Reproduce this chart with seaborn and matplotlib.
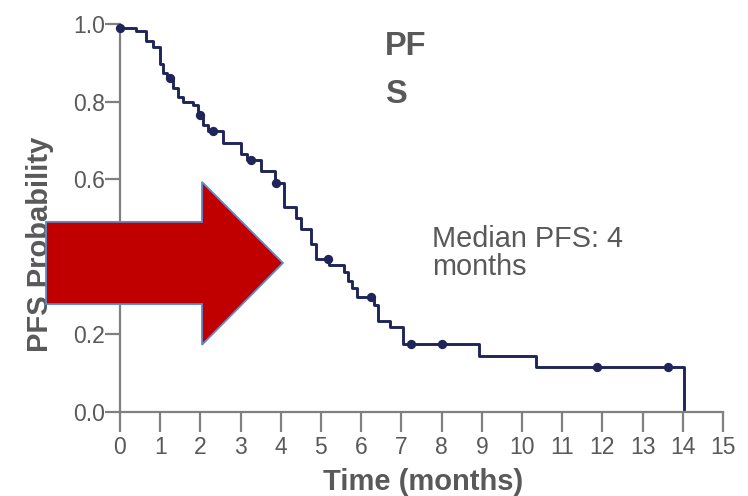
import numpy as np
import matplotlib
matplotlib.use("Agg")
import matplotlib.pyplot as plt
from matplotlib.patches import Polygon
import seaborn as sns

# Kaplan-Meier steps (time in months, survival after the event)
times = [0, 0.41, 0.645, 0.83, 0.99, 1.07, 1.16, 1.32, 1.45, 1.57, 1.82, 1.95,
         2.07, 2.18, 2.56, 3.0, 3.15, 3.52, 3.85, 4.09, 4.37, 4.51, 4.76, 4.88,
         5.21, 5.58, 5.67, 5.77, 5.89, 6.33, 6.43, 6.72, 7.05, 8.93, 10.36, 14.02]
surv = [0.99, 0.982, 0.956, 0.941, 0.896, 0.873, 0.86, 0.834, 0.813, 0.80, 0.79, 0.765,
        0.740, 0.725, 0.693, 0.665, 0.65, 0.622, 0.59, 0.529, 0.501, 0.471, 0.433, 0.394,
        0.379, 0.362, 0.338, 0.319, 0.296, 0.276, 0.235, 0.218, 0.174, 0.144, 0.117, 0.005]
censor_times = [0, 1.24, 2.0, 2.32, 3.27, 3.89, 5.18, 6.24, 7.25, 8.0, 11.87, 13.63]

x_ticks = list(range(0, 16))
y_ticks = [0.0, 0.2, 0.4, 0.6, 0.8, 1.0]
y_ticklabels = ["0.0", "0.2", "0.4", "0.6", "0.8", "1.0"]

# the block arrow, in data units
arrow_x = [-1.84, 2.04, 2.04, 4.055, 2.04, 2.04, -1.84]
arrow_y = [0.49, 0.49, 0.593, 0.384, 0.173, 0.278, 0.278]

sns.set_style("white")
plt.rcParams['font.family'] = ['Liberation Sans', 'DejaVu Sans']

navy = "#1f2559"
grey_txt = "#595959"
grey_ax = "#808080"

fig = plt.figure(figsize=(7.48, 4.96), dpi=100)
ax = fig.add_axes([0.1604, 0.1694, 0.8061, 0.7823])

sns.lineplot(x=times, y=surv, ax=ax, drawstyle="steps-post", color=navy,
             linewidth=2.1, estimator=None, sort=False)

# censor marks sit on the step curve
idx = np.searchsorted(times, censor_times, side="right") - 1
censor_surv = [surv[i] for i in idx]
sns.scatterplot(x=censor_times, y=censor_surv, ax=ax, color=navy, s=45,
                edgecolor=navy, linewidth=0, zorder=4, clip_on=False)

ax.set_xlim(0, 15)
ax.set_ylim(0, 1)
ax.set_xticks(x_ticks)
ax.set_xticklabels([str(t) for t in x_ticks])
ax.set_yticks(y_ticks)
ax.set_yticklabels(y_ticklabels)

sns.despine(ax=ax)
for side in ["left", "bottom"]:
    ax.spines[side].set_color(grey_ax)
    ax.spines[side].set_linewidth(1.6)

ax.tick_params(axis="x", bottom=True, direction="out", length=14.5, width=1.6,
               color=grey_ax, pad=3, labelsize=16.5, labelcolor=grey_txt)
ax.tick_params(axis="y", left=True, direction="out", length=11, width=1.6,
               color=grey_ax, pad=0, labelsize=16.5, labelcolor=grey_txt)

ax.set_xlabel("Time (months)", fontsize=21, fontweight="bold", color=grey_txt)
ax.set_ylabel("PFS Probability", fontsize=21, fontweight="bold", color=grey_txt)
ax.xaxis.set_label_coords(0.502, -0.145)
ax.yaxis.set_label_coords(-0.109, 0.433)

ax.text(6.6, 0.92, "PF", fontsize=23.5, fontweight="bold", color=grey_txt, va="baseline")
ax.text(6.6, 0.796, "S", fontsize=23.5, fontweight="bold", color=grey_txt, va="baseline")
ax.text(7.76, 0.4245, "Median PFS: 4", fontsize=20.8, color=grey_txt, va="baseline")
ax.text(7.76, 0.353, "months", fontsize=20.8, color=grey_txt, va="baseline")

arrow = Polygon(np.column_stack([arrow_x, arrow_y]), closed=True,
                facecolor="#c00000", edgecolor="#5b8fd0", linewidth=1.3,
                clip_on=False, zorder=10)
ax.add_patch(arrow)

fig.savefig("out.png", dpi=100)
